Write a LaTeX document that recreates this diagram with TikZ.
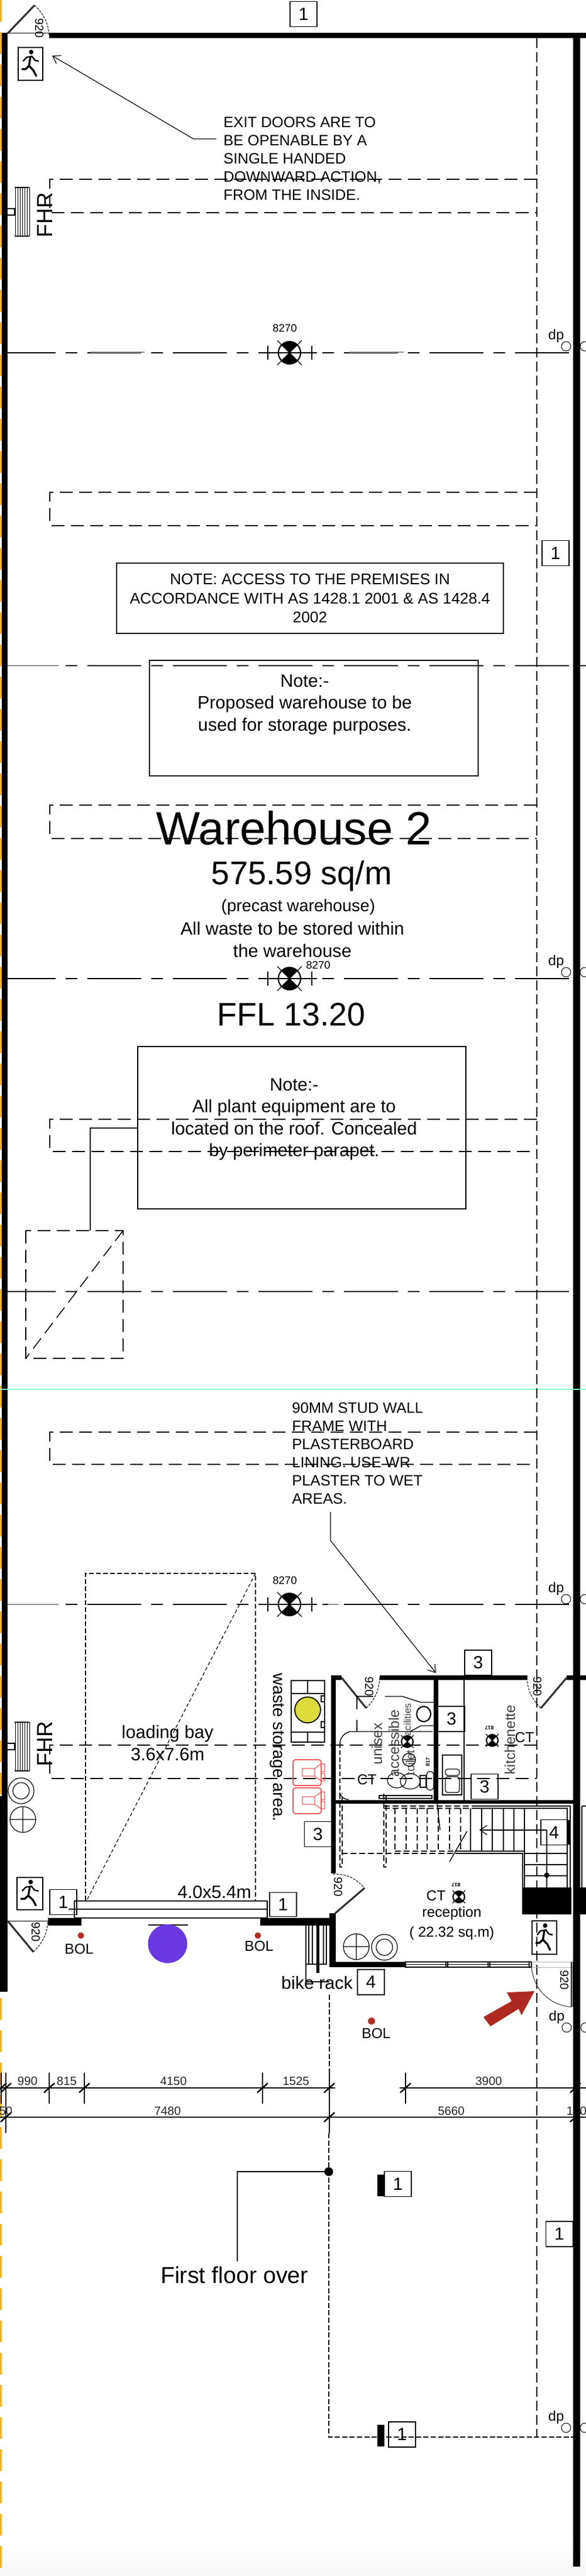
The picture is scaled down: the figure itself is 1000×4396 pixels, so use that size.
\documentclass[tikz,border=0pt]{standalone}
\usepackage{fontspec}
\setmainfont{Liberation Sans}
\usetikzlibrary{arrows.meta}
\definecolor{wallyellow}{HTML}{F5B321}
\definecolor{bolred}{HTML}{B03028}
\definecolor{binred}{HTML}{F05A5A}
\definecolor{pitpurple}{HTML}{6A38E0}
\definecolor{binyellow}{HTML}{DCDC3C}
\definecolor{seamgreen}{HTML}{7FFFC0}
\definecolor{arrowred}{HTML}{AE2A20}
\newcommand{\fsz}[2]{\fontsize{#1}{#2}\selectfont}
\tikzset{
    lbl/.style={inner sep=0pt,align=center},
    wall/.style={fill=black,draw=none},
    thin line/.style={line width=0.7pt},
    gridline/.style={line width=0.9pt,dash pattern=on 46pt off 8.5pt on 10pt off 8.5pt,dash phase=2.5pt},
    gridgrey/.style={line width=1.2pt,black!45},
    hiddenline/.style={line width=0.8pt,dash pattern=on 11pt off 5.5pt},
    columnline/.style={line width=0.8pt,dash pattern=on 8.5pt off 3.5pt},
    finedash/.style={line width=0.8pt,dash pattern=on 4pt off 2pt},
    stairdash/.style={line width=0.9pt,dash pattern=on 5pt off 2.5pt},
    doorleaf/.style={line width=1.6pt,black!80},
    doorarc/.style={line width=0.5pt,dash pattern=on 2pt off 1pt},
    leader/.style={line width=0.6pt,-{Straight Barb[length=6pt,width=8pt]}},
    tagbox/.style={draw,line width=0.7pt,inner sep=0pt,minimum width=23pt,minimum height=21.5pt,font=\fsz{15}{15}},
    notebox/.style={draw,line width=0.7pt,inner sep=0pt,align=center,font=\fsz{13.2}{16.3}},
    roomtext/.style={lbl,font=\fsz{12.3}{12.3},black!75},
    dimtext/.style={lbl,font=\fsz{10.2}{10.2},black!85},
    doortext/.style={lbl,font=\fsz{10}{10},rotate=-90},
    tinytext/.style={lbl,font=\fsz{4.5}{4.5}\bfseries,rotate=180}
}
\newcommand{\lampmark}[3]{%
    \begin{scope}[shift={(#1,#2)},scale=#3]
        \fill (0,0) -- (45:19) arc[start angle=45,end angle=135,radius=19] -- cycle;
        \fill (0,0) -- (225:19) arc[start angle=225,end angle=315,radius=19] -- cycle;
        \draw[line width=1.1pt] (0,0) circle (19);
        \draw[line width=0.6pt] (-21,-21) -- (21,21) (-21,21) -- (21,-21);
    \end{scope}}
\newcommand{\lamptick}[2]{%
    \draw[line width=0.8pt] (#1-46,#2) -- (#1+47,#2) (#1-37,#2-12) -- (#1-37,#2+12) (#1+38,#2-12) -- (#1+38,#2+12);}
\newcommand{\exitsign}[4]{%
    \draw[line width=0.7pt] (#1,#2) rectangle (#3,#4);
    \begin{scope}[shift={(#1,#2)},x={(#3*0.5pt-#1*0.5pt,0)},y={(0,#2*0.5pt-#4*0.5pt)}]
        \fill (0.53,0.14) ellipse (0.09 and 0.07);
        \draw[line width=1.7pt] (0.5,0.27) -- (0.44,0.56) -- (0.62,0.7) -- (0.74,0.88);
        \draw[line width=1.7pt] (0.44,0.56) -- (0.3,0.66) -- (0.14,0.66);
        \draw[line width=1.2pt] (0.2,0.42) -- (0.34,0.3) -- (0.56,0.27) -- (0.68,0.39) -- (0.84,0.42);
    \end{scope}}
\newcommand{\hosereel}[1]{%
    \draw[line width=0.7pt] (25,#1) -- (50,#1) (25,#1+83) -- (50,#1+83) (13,#1+36) -- (25,#1+36) -- (25,#1+47) -- (13,#1+47);
    \foreach \hx in {26,30,...,50} {\draw[line width=0.4pt] (\hx,#1) -- (\hx,#1+83);}}
\newcommand{\dimtick}[4]{%
    \draw[line width=0.9pt] (#1,#3) -- (#1,#4);
    \draw[line width=1.2pt] (#1-9,#2+8) -- (#1+9,#2-8);}
\begin{document}
\begin{tikzpicture}[x=0.5pt,y=-0.5pt]
    \useasboundingbox (0,0) rectangle (1000,4396);
    \shade[top color=white,bottom color=black!3] (0,4330) rectangle (1000,4396);
    \draw[wallyellow,line width=1.5pt,dash pattern=on 18.5pt off 9pt] (1.5,0) -- (1.5,4396);
    \fill[wall] (3,56) rectangle (13,3399);
    \fill[wall] (0,3065) rectangle (13,3399);
    \fill[wall] (84,56) rectangle (1000,65);
    \fill[wall] (978,65) rectangle (990,4380);
    \draw[seamgreen,line width=0.9pt] (0,2371) -- (1000,2371);

    \foreach \gy in {602,1136,1670,2204,2738} {
        \draw[gridline] (8,\gy) -- (978,\gy);
    }
    \draw[gridline,line width=0.7pt] (978,1136) -- (1000,1136);
    \draw[gridgrey] (155,601) -- (247,601) (596,601) -- (689,601) (13,1136) -- (100,1136) (13,2738) -- (100,2738) (560,2738) -- (578,2738);

    \draw[columnline] (916,65) -- (916,4159);
    \foreach \ry/\rh in {306/363,840/897,1374/1431,1910/1965,2444/2499,2978/3035} {
        \draw[hiddenline] (916,\ry) -- (85,\ry) -- (85,\rh) -- (916,\rh);
    }

    \node[tagbox] (tagTop) at (518,24) {1};
    \draw[line width=0.5pt] (13,56) -- (84,56);
    \coordinate (doorTopA) at (13,57);
    \coordinate (doorTopB) at (59,9);
    \coordinate (doorTopC) at (84,60);
    \draw[doorleaf] (doorTopA) -- (doorTopB);
    \draw[doorarc] (doorTopB) to[bend left=20] (doorTopC);
    \node[doortext] (widthTop) at (67,48) {920};
    \exitsign{31}{81}{73}{137}
    \coordinate (exitTip) at (89,95);
    \coordinate (exitElbow) at (330,237);
    \coordinate (exitEnd) at (369,237);
    \draw[leader] (exitEnd) -- (exitElbow) -- (exitTip);
    \node[lbl,align=left,anchor=west,font=\fsz{12.8}{15.5}] (exitNote) at (381,271) {EXIT DOORS ARE TO\\BE OPENABLE BY A\\SINGLE HANDED\\DOWNWARD ACTION,\\FROM THE INSIDE.};
    \hosereel{320}
    \node[lbl,font=\fsz{18.7}{18.7},rotate=90] (fhrTop) at (77,367) {FHR};

    \lamptick{494}{602}
    \lampmark{494}{602}{1}
    \node[lbl,font=\fsz{9.3}{9.3}] (lampA) at (486,560) {8270};
    \lamptick{494}{1670}
    \lampmark{494}{1670}{1}
    \node[lbl,font=\fsz{9.3}{9.3}] (lampB) at (543,1647) {8270};
    \lamptick{494}{2738}
    \lampmark{494}{2738}{1}
    \node[lbl,font=\fsz{9.3}{9.3}] (lampC) at (486,2697) {8270};

    \foreach \dx/\dy/\dn in {949/573/dpA,949/1641/dpB,949/2711/dpC,950/3442/dpD,949/4125/dpE} {
        \node[lbl,font=\fsz{12}{12}] (\dn) at (\dx,\dy) {dp};
        \draw[line width=0.5pt] (\dx+17,\dy+18) circle (8);
        \draw[line width=0.5pt] (\dx+49,\dy+18) circle (8);
    }

    \node[tagbox] (tagRightA) at (948,944) {1};
    \node[notebox,minimum width=330pt,minimum height=60pt] (noteAccess) at (529,1021) {NOTE: ACCESS TO THE PREMISES IN\\ACCORDANCE WITH AS 1428.1 2001 \& AS 1428.4\\2002};
    \node[notebox,minimum width=280.5pt,minimum height=98.5pt] (noteStore) at (535.5,1225.5) {};
    \node[lbl,font=\fsz{15.3}{18.7},anchor=north] (noteStoreText) at (520,1151) {Note:-\\Proposed warehouse to be\\used for storage purposes.};
    \node[lbl,font=\fsz{39.8}{39.8},anchor=base] (titleName) at (502,1441) {Warehouse 2};
    \node[lbl,font=\fsz{28}{28},anchor=base] (titleArea) at (515,1509) {575.59 sq/m};
    \node[lbl,font=\fsz{14.4}{14.4}] (titleKind) at (509,1548) {(precast warehouse)};
    \node[lbl,font=\fsz{15.4}{19}] (titleWaste) at (499,1603) {All waste to be stored within\\the warehouse};
    \node[lbl,font=\fsz{27.8}{27.8},anchor=base] (titleLevel) at (497,1750) {FFL 13.20};

    \node[notebox,minimum width=280pt,minimum height=138.5pt] (noteRoof) at (515,1924.5) {};
    \node[lbl,font=\fsz{15.3}{18.7}] (noteRoofText) at (502,1910) {Note:-\\All plant equipment are to\\located on the roof. Concealed\\by perimeter parapet.};
    \coordinate (shaftElbow) at (154,1925);
    \coordinate (shaftEnd) at (154,2100);
    \draw[thin line] (noteRoof.west |- shaftElbow) -- (shaftElbow) -- (shaftEnd);
    \draw[hiddenline] (44,2100) rectangle (210,2318);
    \draw[hiddenline] (210,2100) -- (44,2318);

    \node[lbl,align=left,anchor=west,font=\fsz{12.8}{15.5}] (studNote) at (498,2480) {90MM STUD WALL\\FRAME WITH\\PLASTERBOARD\\LINING. USE WR\\PLASTER TO WET\\AREAS.};
    \coordinate (studEnd) at (564,2580);
    \coordinate (studElbow) at (564,2629);
    \coordinate (studTip) at (744,2855);
    \draw[leader] (studEnd) -- (studElbow) -- (studTip);

    \draw[finedash] (146,3243) -- (146,2685) -- (436,2685) -- (436,3243);
    \draw[line width=0.6pt,dash pattern=on 3pt off 2pt] (436,2685) -- (148,3243);
    \node[lbl,font=\fsz{15.3}{19}] (bayText) at (286,2975) {loading bay\\3.6x7.6m};
    \node[lbl,font=\fsz{15.3}{15.3}] (doorSize) at (366,3229) {4.0x5.4m};
    \hosereel{2939}
    \node[lbl,font=\fsz{18.7}{18.7},rotate=90] (fhrLow) at (77,2976) {FHR};
    \draw[line width=0.6pt] (36,3056) ellipse (22 and 22) (36,3056) ellipse (14 and 14);
    \draw[line width=0.6pt] (39,3105) circle (22) (17,3105) -- (61,3105) (39,3083) -- (39,3127);
    \exitsign{29}{3204}{73}{3259}
    \node[tagbox,minimum height=21.5pt] (tagLeft) at (108,3246) {1};
    \node[tagbox,minimum height=20.5pt] (tagRightB) at (483,3250) {1};
    \draw[line width=0.8pt] (127,3273) -- (127,3244) -- (456,3244) -- (456,3273);
    \draw[line width=0.8pt] (117,3258) -- (456,3258);
    \draw[line width=0.8pt] (127,3273) -- (456,3273);
    \fill[wall] (82,3273) rectangle (139,3286);
    \fill[wall] (444,3273) rectangle (562,3286);
    \draw[line width=0.5pt] (13,3278) -- (82,3278);
    \coordinate (doorLowA) at (13,3278);
    \coordinate (doorLowB) at (57,3331);
    \coordinate (doorLowC) at (82,3278);
    \draw[doorleaf] (doorLowA) -- (doorLowB);
    \draw[doorarc] (doorLowB) to[bend right=20] (doorLowC);
    \node[doortext] (widthLow) at (61,3297) {920};
    \draw[thin line] (253,3285) -- (321,3285);
    \fill[pitpurple] (286,3317) ellipse (33.5 and 33);
    \fill[bolred] (138,3303) circle (5.5) (440,3303) circle (5.5) (634,3449) circle (6);
    \node[lbl,font=\fsz{12.3}{12.3}] (bolA) at (135,3326) {BOL};
    \node[lbl,font=\fsz{12.3}{12.3}] (bolB) at (442,3321) {BOL};
    \node[lbl,font=\fsz{12.3}{12.3}] (bolC) at (642,3470) {BOL};

    \node[lbl,font=\fsz{14.4}{14.4},rotate=-90] (wasteText) at (473,2982) {waste storage area.};
    \draw[line width=1.1pt] (497,2868) rectangle (554,2973) (497,2890) -- (554,2890) (497,2956) -- (554,2956);
    \draw[thin line] (525,2868) -- (525,2890) (525,2956) -- (525,2973) (548,2894) rectangle (554,2904) (548,2938) rectangle (554,2948);
    \draw[line width=0.9pt,fill=binyellow] (525,2918) ellipse (22 and 22);
    \foreach \by in {3003,3051} {
        \draw[binred,line width=0.9pt,rounded corners=2pt] (500,\by) rectangle (548,\by+44);
        \draw[binred,line width=0.6pt] (516,\by+15) rectangle (537,\by+28) (537,\by+15) -- (548,\by+7) (537,\by+28) -- (548,\by+36) (548,\by+7) rectangle (554,\by+20) (548,\by+23) rectangle (554,\by+36);
    }
    \node[tagbox] (tagWaste) at (542.5,3130) {3};

    \fill[wall] (565,2859) rectangle (573,3197);
    \fill[wall] (565,2859) rectangle (583,2867);
    \fill[wall] (648,2859) rectangle (900,2867);
    \fill[wall] (967,2859) rectangle (1000,2867);
    \fill[wall] (740,2867) rectangle (748,3072);
    \fill[wall] (573,3072) rectangle (978,3078);
    \draw[thin line] (792,2867) -- (792,3072);
    \node[tagbox] (tagStud) at (816,2837.5) {3};
    \node[tagbox] (tagToilet) at (770.5,2933.5) {3};
    \node[tagbox] (tagKitchen) at (827,3049) {3};

    \coordinate (doorWcA) at (583,2863);
    \coordinate (doorWcB) at (625,2915);
    \coordinate (doorWcC) at (648,2863);
    \draw[doorleaf] (doorWcA) -- (doorWcB);
    \draw[doorarc] (doorWcB) to[bend right=20] (doorWcC);
    \node[doortext] (widthWc) at (630,2878) {920};
    \coordinate (doorKitA) at (967,2863);
    \coordinate (doorKitB) at (923,2915);
    \coordinate (doorKitC) at (899,2863);
    \draw[doorleaf] (doorKitA) -- (doorKitB);
    \draw[doorarc] (doorKitC) to[bend right=20] (doorKitB);
    \node[doortext] (widthKit) at (917,2878) {920};

    \draw[thin line] (609,2895) -- (637,2895) (609,2895) -- (609,2917) (609,2935) -- (609,2955);
    \draw[thin line] (580,2975) to[bend left=35] (597,2955) -- (738,2955);
    \draw[finedash] (580,2975) -- (580,3060);
    \draw[thin line] (580,3060) to[bend right=35] (595,3071);
    \draw[thin line] (657,2895) -- (687,2895) -- (718,2905) -- (740,2905) (700,2955) -- (718,2945) -- (740,2945);
    \draw[line width=1.1pt] (723,2925) ellipse (12 and 13);
    \draw[line width=0.6pt] (677,3038) ellipse (16 and 13) (700,3040) ellipse (17 and 13);
    \draw[line width=0.6pt] (717,3030) rectangle (727,3050);
    \draw[line width=0.6pt,rounded corners=3pt] (728,3023) rectangle (740,3055);
    \draw[thin line] (647,3064) rectangle (737,3069);
    \draw[thin line] (755,2995) rectangle (788,3063);
    \draw[line width=0.6pt,rounded corners=2pt] (760,3019) rectangle (784,3030) (760,3032) rectangle (784,3059);
    \node[roomtext,rotate=90] (roomUnisex) at (643,2976) {unisex};
    \node[roomtext,rotate=90] (roomAccess) at (672,2975) {accessible};
    \node[roomtext,rotate=90,font=\fsz{8.5}{8.5}] (roomFacil) at (695,2937) {facilities};
    \node[roomtext,rotate=90,font=\fsz{10}{10}] (roomToilet) at (700,3008) {toilet};
    \node[roomtext,rotate=90] (roomKitchen) at (870,2969) {kitchenette};
    \node[lbl,font=\fsz{12.3}{12.3}] (ctWc) at (626,3037) {CT};
    \node[lbl,font=\fsz{12.3}{12.3}] (ctKit) at (895,2965) {CT};
    \node[lbl,font=\fsz{12.3}{12.3}] (ctRec) at (744,3235) {CT};
    \lampmark{695}{2972}{0.52}
    \lampmark{840}{2970}{0.52}
    \lampmark{783}{3237}{0.52}
    \draw[thin line] (698,3003) circle (11) (687,3003) -- (709,3003);
    \node[tinytext] (codeKit) at (835,2949) {817};
    \node[tinytext] (codeRec) at (778,3217) {817};
    \node[tinytext,rotate=-90] (codeWc) at (730,3007) {817};

    \draw[stairdash] (580,3060) -- (580,3186) -- (584,3186) -- (584,3060);
    \draw[stairdash] (655,3061) -- (655,3186) -- (659,3186) -- (659,3061);
    \draw[stairdash] (655,3082) -- (805,3082) (655,3086) -- (805,3086);
    \draw[thin line] (805,3082) -- (973,3082) -- (973,3221) (805,3086) -- (968,3086) -- (968,3221);
    \foreach \tx in {674,693,712,729,748,767,786} {
        \draw[stairdash] (\tx,3086) -- (\tx,3159);
    }
    \foreach \tx in {803,822,840,859,877,895} {
        \draw[thin line] (\tx,3086) -- (\tx,3159);
    }
    \draw[stairdash] (674,3159) -- (777,3159) (583,3163) -- (777,3163);
    \draw[thin line] (777,3159) -- (895,3159) -- (895,3221) (777,3163) -- (892,3163) -- (892,3221);
    \foreach \ty in {3163,3182,3201} {
        \draw[thin line] (895,\ty) -- (968,\ty);
    }
    \fill[wall] (891,3221) rectangle (975,3267);
    \fill[wall] (990,3221) rectangle (1000,3267);
    \draw[thin line] (993,3082) -- (1000,3082) (993,3082) -- (993,3221);
    \node[tagbox,minimum width=22.5pt] (tagStair) at (945.5,3127) {4};
    \fill[wall] (968,3106) rectangle (972,3148);
    \coordinate (stairDot) at (933,3200);
    \coordinate (stairTurn) at (933,3123);
    \coordinate (stairTip) at (818,3123);
    \draw[thin line] (933,3221) -- (stairDot) -- (stairTurn);
    \draw[line width=0.7pt,-{Straight Barb[length=6pt,width=8pt]}] (stairTurn) -- (stairTip);
    \fill (stairDot) circle (4.5);
    \draw[thin line] (767,3177) -- (797,3125) (746,3078) -- (751,3123);

    \coordinate (doorRecA) at (572,3265);
    \coordinate (doorRecB) at (622,3222);
    \coordinate (doorRecC) at (568,3198);
    \draw[doorleaf] (doorRecA) -- (doorRecB);
    \draw[doorarc] (doorRecC) to[bend left=25] (doorRecB);
    \node[doortext] (widthRec) at (577,3220) {920};
    \fill[wall] (562,3265) rectangle (573,3357);
    \fill[wall] (562,3348) rectangle (692,3357);
    \fill[wall] (540,3286) rectangle (545,3367);
    \draw[thin line] (522,3286) -- (522,3382) -- (562,3382) (527,3286) -- (527,3352) (533,3286) -- (533,3352) (522,3352) -- (557,3352) -- (557,3286) (552,3286) -- (552,3352);
    \draw[line width=0.9pt] (692,3348) rectangle (907,3357) (692,3352.5) -- (904,3352.5);
    \draw[line width=0.9pt] (761,3348) -- (761,3357) (764,3348) -- (764,3357) (833,3348) -- (833,3357) (836,3348) -- (836,3357) (903,3348) -- (903,3357);
    \draw[black!30,line width=0.5pt] (907,3348) -- (978,3348) (907,3357) -- (978,3357);
    \draw[line width=0.8pt] (975,3348) -- (975,3425) (978,3348) -- (978,3425);
    \coordinate (doorMainA) at (907,3357);
    \coordinate (doorMainB) at (975,3425);
    \draw[line width=0.6pt,black!70] (doorMainA) to[bend right=40] (doorMainB);
    \node[doortext] (widthMain) at (963,3379) {920};
    \exitsign{908}{3278}{950}{3335}
    \node[lbl,font=\fsz{12.3}{16.7}] (recText) at (771,3282) {reception\\( 22.32 sq.m)};
    \draw[line width=0.6pt] (608,3322) circle (22) (586,3322) -- (630,3322) (608,3300) -- (608,3344);
    \draw[line width=0.6pt] (656,3323) circle (22) (656,3323) circle (14);
    \node[tagbox] (tagRack) at (633,3382.5) {4};
    \node[lbl,font=\fsz{15.2}{15.2}] (rackText) at (541,3384) {bike rack};
    \fill[arrowred] (912,3398) -- (865,3400) -- (873,3415) -- (825,3442) -- (837,3458) -- (885,3428) -- (890,3439) -- cycle;

    \draw[columnline,dash pattern=on 4.5pt off 1.8pt] (562,3404) -- (562,3537);
    \draw[columnline,dash pattern=on 4.5pt off 1.8pt] (561,3640) -- (561,4159) -- (985,4159);

    \draw[line width=0.9pt] (0,3563) -- (572,3563) (682,3563) -- (1000,3563);
    \draw[line width=0.9pt] (0,3613) -- (1000,3613);
    \dimtick{2}{3563}{3537}{3590}
    \dimtick{10}{3563}{3537}{3640}
    \dimtick{84}{3563}{3537}{3590}
    \dimtick{144}{3563}{3537}{3590}
    \dimtick{448}{3563}{3537}{3590}
    \dimtick{562}{3563}{3537}{3640}
    \dimtick{692}{3563}{3537}{3590}
    \dimtick{982}{3563}{3563}{3563}
    \dimtick{10}{3613}{3590}{3640}
    \dimtick{562}{3613}{3590}{3640}
    \dimtick{982}{3613}{3613}{3613}
    \foreach \tx/\ty/\tn in {47/3551/990,114/3551/815,296/3551/4150,505/3551/1525,834/3551/3900,286/3602/7480,770/3602/5660,10/3602/50,984/3602/150} {
        \node[dimtext] (dim\tn) at (\tx,\ty) {\tn};
    }
    \fill[wall] (978,3590) rectangle (990,3640);

    \coordinate (firstDot) at (561,3706);
    \coordinate (firstElbow) at (405,3706);
    \coordinate (firstEnd) at (405,3859);
    \draw[thin line] (firstDot) -- (firstElbow) -- (firstEnd);
    \fill (firstDot) circle (7.5);
    \node[lbl,font=\fsz{19.7}{19.7}] (firstText) at (400,3882) {First floor over};
    \node[tagbox] (tagFirstA) at (679,3727) {1};
    \fill[wall] (644,3711) rectangle (656,3748);
    \node[tagbox] (tagRightC) at (954.5,3812.5) {1};
    \node[tagbox] (tagFirstB) at (686,4154.5) {1};
    \fill[wall] (644,4138) rectangle (656,4175);
\end{tikzpicture}
\end{document}
